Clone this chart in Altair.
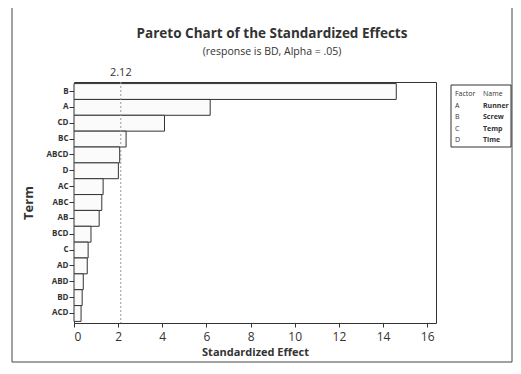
import altair as alt
import pandas as pd

# ---- data ----
terms = ["B", "A", "CD", "BC", "ABCD", "D", "AC", "ABC", "AB", "BCD", "C", "AD", "ABD", "BD", "ACD"]
effects = [14.6, 6.17, 4.1, 2.36, 2.07, 2.01, 1.32, 1.26, 1.14, 0.77, 0.64, 0.60, 0.42, 0.37, 0.32]
ref_value = 2.12
legend_factors = ["A", "B", "C", "D"]
legend_names = ["Runner", "Screw", "Temp", "Time"]
x_ticks = [0, 2, 4, 6, 8, 10, 12, 14, 16]
title_text = "Pareto Chart of the Standardized Effects"
subtitle_text = "(response is BD, Alpha = .05)"

df = pd.DataFrame({"Term": terms, "Effect": effects})
ref_df = pd.DataFrame({"Effect": [ref_value], "label": [f"{ref_value:.2f}"]})
one = pd.DataFrame({"a": [0]})

# ---- layout ----
L, T = 74, 82          # plot origin on page
W, H = 362, 241
PAD_R = 505 - (L - 8) - W
PAD_B = 358 - (T - 8) - H
FONT = "Open Sans"
INK = "#333333"

x_scale = alt.Scale(domain=[0, 16.4], nice=False, zero=False)
y_scale = alt.Scale(domain=terms, paddingInner=0, paddingOuter=0.1)
x_axis = alt.Axis(values=x_ticks, title="Standardized Effect", grid=False, domain=False,
                  tickColor=INK, tickSize=4, labelFont=FONT, labelFontSize=12,
                  labelColor=INK, labelPadding=4, titleFont=FONT, titleFontSize=11,
                  titleFontWeight="bold", titleColor=INK, titlePadding=4)

bars = alt.Chart(df).mark_bar(fill="#fbfbfb", stroke=INK, strokeWidth=1).encode(
    x=alt.X("Effect:Q", scale=x_scale, axis=x_axis),
    y=alt.Y("Term:N", scale=y_scale, sort=terms,
            axis=alt.Axis(title="Term", grid=False, domain=False, tickColor=INK, tickSize=5,
                          labelFont=FONT, labelFontSize=8, labelFontWeight="bold",
                          labelColor=INK, labelPadding=1, titleFont=FONT, titleFontSize=13,
                          titleFontWeight="bold", titleColor=INK, titlePadding=11)),
)

ref_rule = alt.Chart(ref_df).mark_rule(color="#999999", strokeDash=[2, 2], strokeWidth=1).encode(
    x=alt.X("Effect:Q", scale=x_scale, axis=x_axis)
)
ref_label = alt.Chart(ref_df).mark_text(font=FONT, fontSize=11, color=INK, baseline="middle").encode(
    x=alt.X("Effect:Q", scale=x_scale, axis=x_axis), y=alt.value(-9), text="label:N"
)

layers = [bars, ref_rule, ref_label]

# outer frame
layers.append(alt.Chart(one).mark_rect(fill=None, stroke="#444444", strokeWidth=1).encode(
    x=alt.value(12 - L), x2=alt.value(512 - L), y=alt.value(6 - T), y2=alt.value(362 - T)))

# titles
layers.append(alt.Chart(one).mark_text(font=FONT, fontSize=13.5, fontWeight="bold", color=INK,
                                       baseline="middle").encode(
    x=alt.value(272 - L), y=alt.value(34 - T), text=alt.value(title_text)))
layers.append(alt.Chart(one).mark_text(font=FONT, fontSize=10.5, color=INK, baseline="middle").encode(
    x=alt.value(272 - L), y=alt.value(52 - T), text=alt.value(subtitle_text)))

# legend box
layers.append(alt.Chart(one).mark_rect(fill=None, stroke=INK, strokeWidth=1).encode(
    x=alt.value(451 - L), x2=alt.value(511 - L), y=alt.value(85 - T), y2=alt.value(147 - T)))
rows = [("Factor", "Name")] + list(zip(legend_factors, legend_names))
for i, (c1, c2) in enumerate(rows):
    yy = 94 + i * 11.6 - T
    for xx, txt, wt in ((455, c1, "normal"), (483, c2, "bold" if i > 0 else "normal")):
        layers.append(alt.Chart(one).mark_text(font=FONT, fontSize=7, color=INK, align="left",
                                               baseline="middle", fontWeight=wt).encode(
            x=alt.value(xx - L), y=alt.value(yy), text=alt.value(txt)))

chart = alt.layer(*layers).properties(
    width=W, height=H,
    autosize=alt.AutoSizeParams(type="none"),
    padding={"left": L - 8, "top": T - 8, "right": PAD_R, "bottom": PAD_B},
    background="white",
).configure_view(stroke=INK, strokeWidth=1)

chart.save("out.html", embed_options={"renderer": "svg", "actions": False})
